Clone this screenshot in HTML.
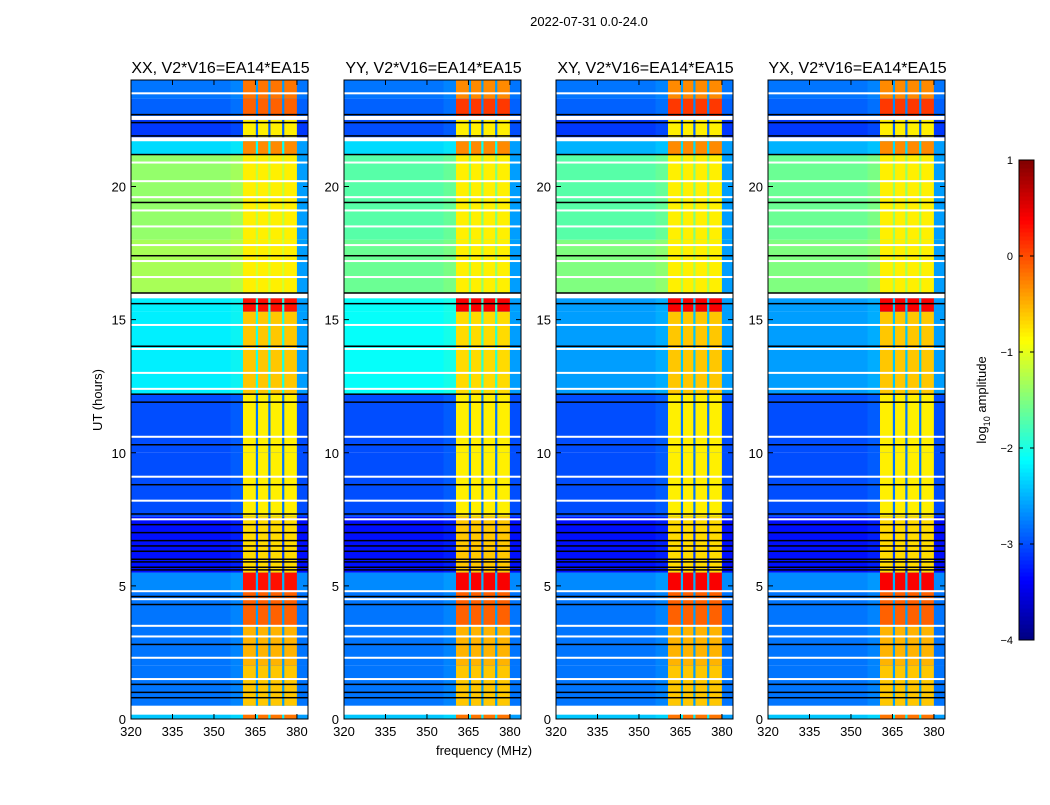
<!DOCTYPE html>
<html><head><meta charset="utf-8">
<style>
body{margin:0;background:#fff;}
svg text{font-family:"Liberation Sans",sans-serif;fill:#000;}
</style></head>
<body>
<svg id="fig" width="1050" height="800" xmlns="http://www.w3.org/2000/svg">
<rect width="1050" height="800" fill="#fff"/>
<text x="589" y="26" text-anchor="middle" style="font-size:13px">2022-07-31 0.0-24.0</text>
<text x="484" y="755" text-anchor="middle" style="font-size:13px">frequency (MHz)</text>
<text transform="translate(102,400) rotate(-90)" text-anchor="middle" style="font-size:13px">UT (hours)</text>
<g id="panels"></g>
<g id="cbar"></g>
</svg>
<script>
// ---- data ----
const panelTitles = ["XX, V2*V16=EA14*EA15","YY, V2*V16=EA14*EA15","XY, V2*V16=EA14*EA15","YX, V2*V16=EA14*EA15"];
const bandStart = [0,   0.5, 2.0, 3.5, 4.8, 5.5, 7.6, 10.0,12.2,15.3,16.0,18.0,21.2,21.85,22.65,23.3];
const bandEnd   = [0.2, 2.0, 3.5, 4.8, 5.5, 7.6, 10.0,12.2,15.3,15.8,18.0,21.2,21.7,22.5, 23.3, 24.0];
const bgXX = [-2.4,-2.8,-2.8,-2.8,-2.7,-3.3,-3.0,-3.0,-2.2,-2.2,-1.3,-1.4,-2.3,-3.1,-2.9,-2.8];
const bgYY = [-2.4,-2.8,-2.8,-2.8,-2.7,-3.3,-3.0,-3.0,-2.1,-2.1,-1.6,-1.7,-2.3,-3.0,-2.9,-2.8];
const bgXY = [-2.4,-2.8,-2.8,-2.8,-2.7,-3.3,-3.0,-3.0,-2.6,-2.6,-1.5,-1.7,-2.5,-3.1,-2.9,-2.8];
const bgYX = [-2.4,-2.8,-2.8,-2.8,-2.7,-3.3,-3.0,-3.0,-2.6,-2.6,-1.5,-1.6,-2.5,-3.1,-2.9,-2.8];
const rfiXX = [-0.2,-0.6,-0.5,-0.1,0.3,-0.7,-0.8,-0.8,-0.6,0.3,-0.8,-0.8,-0.3,-0.8,-0.1,-0.2];
const rfiYY = [-0.2,-0.6,-0.5,-0.1,0.4,-0.6,-0.8,-0.8,-0.7,0.4,-0.8,-0.8,-0.3,-0.8,0.1,-0.3];
const rfiXY = [-0.2,-0.6,-0.5,-0.1,0.4,-0.7,-0.8,-0.8,-0.6,0.4,-0.8,-0.8,-0.3,-0.8,0.1,-0.3];
const rfiYX = [-0.2,-0.6,-0.5,-0.1,0.4,-0.7,-0.8,-0.8,-0.6,0.4,-0.8,-0.8,-0.3,-0.8,0.1,-0.3];
const bgSets = [bgXX,bgYY,bgXY,bgYX];
const rfiSets = [rfiXX,rfiYY,rfiXY,rfiYX];
const rfiLow = 360.5, rfiHigh = 380;
const notchFreqs = [365.5, 370, 375];
const whiteRows = [0.2,0.3,0.4,1.5,2.3,3.1,3.5,4.5,4.8,7.5,8.2,9.1,10.6,12.4,13.0,13.9,14.8,15.85,15.9,15.95,16.6,17.2,17.8,18.5,19.1,19.6,20.2,20.9,21.75,21.8,22.55,22.6,23.5];
const blackRows = [0.8,1.0,1.3,2.8,4.3,4.6,5.6,5.7,5.9,6.0,6.3,6.5,6.7,7.0,7.3,7.7,8.8,10.3,11.9,12.2,14.0,15.6,16.0,17.4,19.4,21.2,21.9,22.4,22.7];
const xTicks = [320,335,350,365,380];
const xTickLabels = ["320","335","350","365","380"];
const yTicks = [0,5,10,15,20];
const yTickLabels = ["0","5","10","15","20"];
const cbTicks = [-4,-3,-2,-1,0,1];
const cbTickLabels = ["\u22124","\u22123","\u22122","\u22121","0","1"];

// ---- geometry ----
const lefts=[131,344,556,768], PW=177, TOP=80, BOT=719;
const fMin=320, fMax=384, tMin=0, tMax=24;
const vMin=-4, vMax=1;
function jet(v){
  let x=(v-vMin)/(vMax-vMin); x=Math.max(0,Math.min(1,x));
  const c=t=>Math.round(255*Math.max(0,Math.min(1,t)));
  const r=c(1.5-Math.abs(4*x-3)), g=c(1.5-Math.abs(4*x-2)), b=c(1.5-Math.abs(4*x-1));
  return `rgb(${r},${g},${b})`;
}
const NS="http://www.w3.org/2000/svg";
function el(tag,attrs,parent){const e=document.createElementNS(NS,tag);for(const k in attrs)e.setAttribute(k,attrs[k]);parent.appendChild(e);return e;}
const panelsG=document.getElementById('panels');

panelTitles.forEach((title,p)=>{
  const L=lefts[p];
  const xs=f=>L+(f-fMin)/(fMax-fMin)*PW;
  const ys=t=>BOT-(t-tMin)/(tMax-tMin)*(BOT-TOP);
  const g=el('g',{},panelsG);
  
  
  el('rect',{x:L,y:TOP,width:PW,height:BOT-TOP,fill:'#fff'},g);
  const bg=bgSets[p], rf=rfiSets[p];
  for(let i=0;i<bandStart.length;i++){
    const y1=ys(bandEnd[i]), y0=ys(bandStart[i]);
    const r=el('rect',{x:L,y:y1,width:PW,height:y0-y1,fill:jet(bg[i])},g);
    
    
    el('rect',{x:xs(356),y:y1,width:xs(rfiLow)-xs(356),height:y0-y1,fill:jet(bg[i]+0.25),opacity:0.3},g);
    const rr=el('rect',{x:xs(rfiLow),y:y1,width:xs(rfiHigh)-xs(rfiLow),height:y0-y1,fill:jet(rf[i])},g);
    
    
    notchFreqs.forEach(f=>{
      const n=el('rect',{x:xs(f)-1,y:y1,width:2.2,height:y0-y1,fill:jet(bg[i]+0.2)},g);
      
      
    });
    el('rect',{x:xs(rfiHigh),y:y1,width:xs(fMax)-xs(rfiHigh),height:y0-y1,fill:jet(Math.min(bg[i],-2.6))},g);
  }
  whiteRows.forEach(t=>{
    const r=el('rect',{x:L,y:ys(t)-1,width:PW,height:2,fill:'#fff'},g);
    
    
  });
  blackRows.forEach(t=>{
    const r=el('rect',{x:L,y:ys(t)-0.75,width:PW,height:1.5,fill:'#000'},g);
    
    
  });
  el('rect',{x:L,y:TOP,width:PW,height:BOT-TOP,fill:'none',stroke:'#000','stroke-width':1},g);
  const tt=el('text',{x:L+PW/2+1,y:TOP-7,'text-anchor':'middle',style:'font-size:16px'},g);
  
  
  tt.textContent=title;
  xTicks.forEach((f,i)=>{
    const x=xs(f);
    el('line',{x1:x,y1:BOT,x2:x,y2:BOT-5,stroke:'#000'},g);
    el('line',{x1:x,y1:TOP,x2:x,y2:TOP+5,stroke:'#000'},g);
    const t=el('text',{x:x,y:BOT+17,'text-anchor':'middle',style:'font-size:13px'},g);
    
    
    t.textContent=xTickLabels[i];
  });
  yTicks.forEach((v,i)=>{
    const y=ys(v);
    el('line',{x1:L,y1:y,x2:L+5,y2:y,stroke:'#000'},g);
    el('line',{x1:L+PW,y1:y,x2:L+PW-5,y2:y,stroke:'#000'},g);
    const t=el('text',{x:L-5,y:y+5,'text-anchor':'end',style:'font-size:13px'},g);
    
    
    t.textContent=yTickLabels[i];
  });
});

// colorbar
const cb=document.getElementById('cbar');


const CX=1019,CW=15,CT=160,CB=640;
const cys=v=>CB-(v-vMin)/(vMax-vMin)*(CB-CT);
for(let i=0;i<120;i++){
  const v0=vMin+(vMax-vMin)*i/120, v1=vMin+(vMax-vMin)*(i+1)/120;
  el('rect',{x:CX,y:cys(v1),width:CW,height:cys(v0)-cys(v1)+0.5,fill:jet((v0+v1)/2)},cb);
}
el('rect',{x:CX,y:CT,width:CW,height:CB-CT,fill:'none',stroke:'#000'},cb);
cbTicks.forEach((v,i)=>{
  const y=cys(v);
  el('line',{x1:CX,y1:y,x2:CX+4,y2:y,stroke:'#000'},cb);
  el('line',{x1:CX+CW,y1:y,x2:CX+CW-4,y2:y,stroke:'#000'},cb);
  const t=el('text',{x:CX-6,y:y+4,'text-anchor':'end',style:'font-size:11px'},cb);
  
  
  t.textContent=cbTickLabels[i];
});
const cl=el('text',{transform:'translate(986,400) rotate(-90)','text-anchor':'middle',style:'font-size:13px'},cb);


cl.innerHTML='log<tspan style="font-size:9px" dy="4">10</tspan><tspan dy="-4"> amplitude</tspan>';
</script>
</body></html>
